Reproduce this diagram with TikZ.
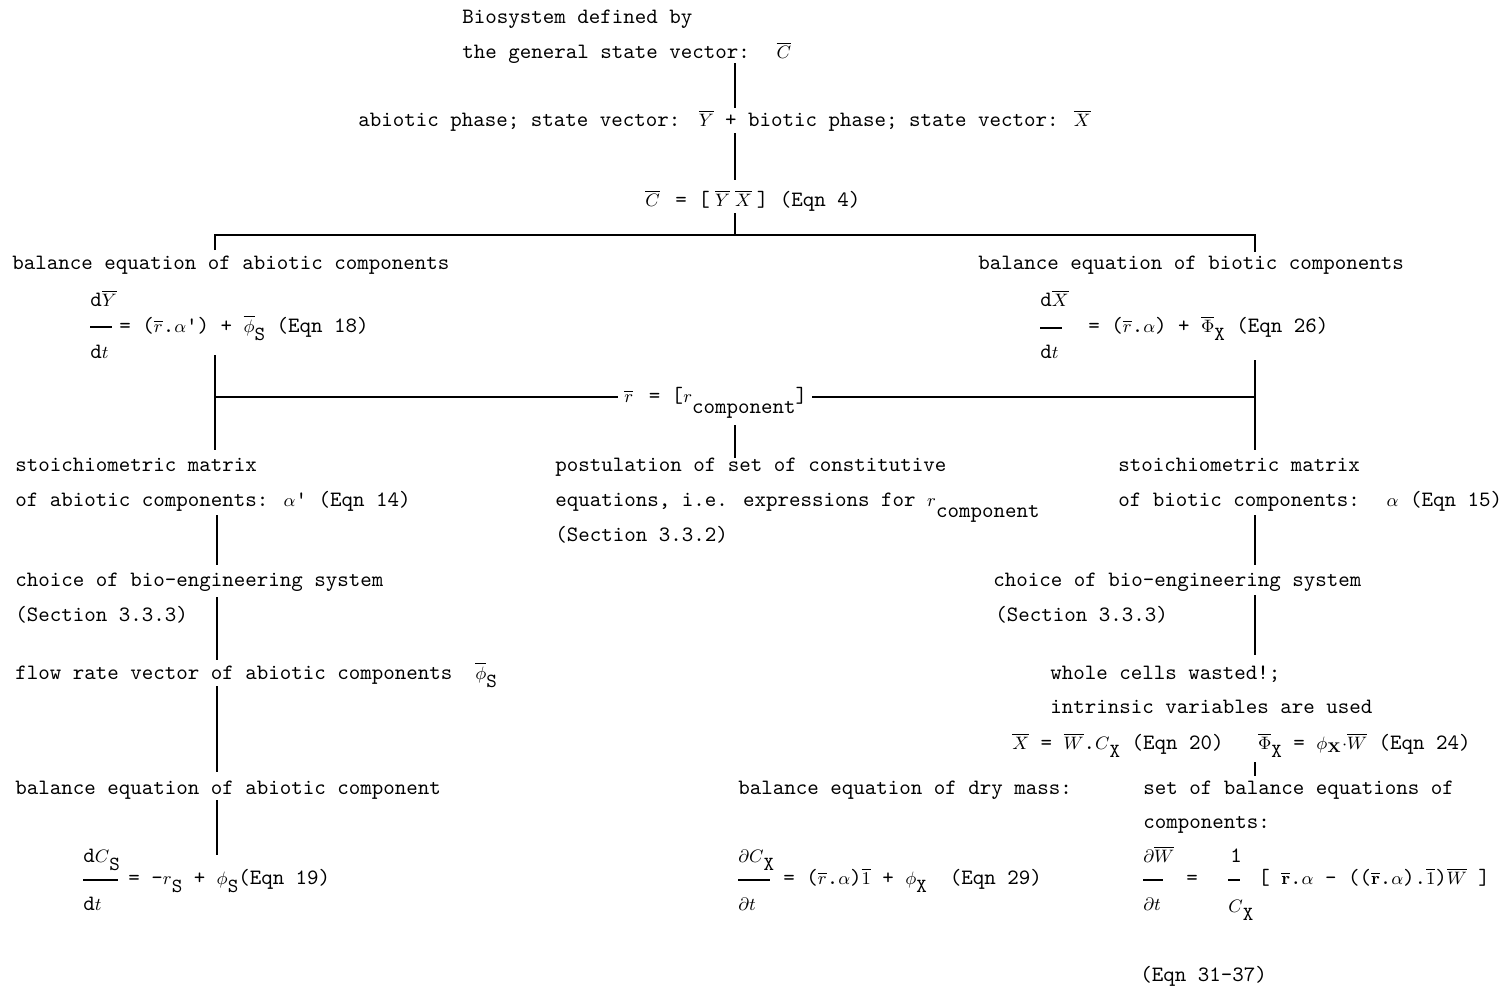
\documentclass[tikz,border=0pt]{standalone}
\usepackage{amsmath}
\DeclareMathSizes{10.95}{9.2}{7}{5}
\newcommand{\sbs}[1]{\raisebox{-4pt}{\fontsize{10}{12}\selectfont #1}}
\newcommand{\cmpsub}{\raisebox{-5.5pt}{component}}
\begin{document}
\begin{tikzpicture}[x=0.5pt,y=-0.5pt,
  txt/.style={anchor=base west, inner sep=0pt, font=\ttfamily\fontsize{10.95}{13}\selectfont},
  conn/.style={line width=0.9pt, black},
  fracline/.style={line width=0.6pt, black}]
\useasboundingbox (0,0) rectangle (1508,985);

% ---------- top ----------
\node[txt] (t1) at (462,24) {Biosystem defined by};
\node[txt] (t2) at (462,58) {the general state vector:~ $\overline{C}$};
\node[txt] (t3) at (358,126) {abiotic phase; state vector: $\,\overline{Y}$ + biotic phase; state vector: $\overline{X}$};
\node[txt] (t4) at (645,206) {$\overline{C}$\hspace{2pt} = [$\;\overline{Y}\;\overline{X}\;$] (Eqn 4)};

\coordinate (a1) at (735,63);  \coordinate (a2) at (735,108);
\coordinate (b1) at (735,133); \coordinate (b2) at (735,180);
\coordinate (c1) at (735,213); \coordinate (c2) at (735,235);
\coordinate (hl) at (215,235); \coordinate (hr) at (1255,235);
\coordinate (hld) at (215,250); \coordinate (hrd) at (1255,252);
\draw[conn] (a1) -- (a2);
\draw[conn] (b1) -- (b2);
\draw[conn] (c1) -- (c2);
\draw[conn] (hld) -- (hl) -- (hr) -- (hrd);

% ---------- balance equations ----------
\node[txt] (bl) at (12,269) {balance equation of abiotic components};
\node[txt] (br) at (978,269) {balance equation of biotic components};

\node[txt] (e18n) at (90,306) {d$\overline{Y}$};
\coordinate (e18a) at (90,327); \coordinate (e18b) at (112,327);
\draw[fracline] (e18a) -- (e18b);
\node[txt] (e18) at (119,332) {= ($\overline{r}$.$\alpha$\textquotesingle) + $\overline{\phi}$\sbs{S} (Eqn 18)};
\node[txt] (e18d) at (90,358) {d$t$};

\node[txt] (e26n) at (1040,306) {d$\overline{X}$};
\coordinate (e26a) at (1040,328); \coordinate (e26b) at (1062,328);
\draw[fracline] (e26a) -- (e26b);
\node[txt] (e26) at (1088,332) {= ($\overline{r}$.$\alpha$) + $\overline{\Phi}$\sbs{X} (Eqn 26)};
\node[txt] (e26d) at (1040,358) {d$t$};

% ---------- r vector ----------
\node[txt] (rv) at (624,402) {$\overline{r}$\hspace{2pt} = [$r$\cmpsub]};
\coordinate (lv1) at (215,355); \coordinate (lv2) at (215,450);
\coordinate (rv1) at (1255,360); \coordinate (rv2) at (1255,450);
\coordinate (hl2) at (215,397); \coordinate (hl2e) at (618,397);
\coordinate (hr2s) at (812,397); \coordinate (hr2) at (1255,397);
\draw[conn] (lv1) -- (lv2);
\draw[conn] (rv1) -- (rv2);
\draw[conn] (hl2) -- (hl2e);
\draw[conn] (hr2s) -- (hr2);
\coordinate (m1) at (735,425); \coordinate (m2) at (735,458);
\draw[conn] (m1) -- (m2);

% ---------- stoichiometric ----------
\node[txt] (sl1) at (15,471) {stoichiometric matrix};
\node[txt] (sl2) at (15,506) {of abiotic components: $\alpha$\textquotesingle{} (Eqn 14)};
\node[txt] (pm1) at (555,471) {postulation of set of constitutive};
\node[txt] (pm2) at (555,506) {equations, i.e. expressions for $r$\cmpsub};
\node[txt] (pm3) at (555,541) {(Section 3.3.2)};
\node[txt] (sr1) at (1118,471) {stoichiometric matrix};
\node[txt] (sr2) at (1118,506) {of biotic components:~ $\alpha$ (Eqn 15)};

% ---------- left column ----------
\node[txt] (cl1) at (15,586) {choice of bio-engineering system};
\node[txt] (cl2) at (15,621) {(Section 3.3.3)};
\node[txt] (fl) at (15,679) {flow rate vector of abiotic components~ $\overline{\phi}$\sbs{S}};
\node[txt] (bal) at (15,794) {balance equation of abiotic component};
\coordinate (l1a) at (217,515); \coordinate (l1b) at (217,565);
\coordinate (l2a) at (217,597); \coordinate (l2b) at (217,660);
\coordinate (l3a) at (217,686); \coordinate (l3b) at (217,772);
\coordinate (l4a) at (217,800); \coordinate (l4b) at (217,855);
\draw[conn] (l1a) -- (l1b);
\draw[conn] (l2a) -- (l2b);
\draw[conn] (l3a) -- (l3b);
\draw[conn] (l4a) -- (l4b);

\node[txt] (e19n) at (83,862) {d$C$\sbs{S}};
\coordinate (e19a) at (83,880); \coordinate (e19b) at (118,880);
\draw[fracline] (e19a) -- (e19b);
\node[txt] (e19) at (128,884) {= -$r$\sbs{S} + $\phi$\sbs{S}(Eqn 19)};
\node[txt] (e19d) at (83,910) {d$t$};

% ---------- right column ----------
\node[txt] (cr1) at (993,586) {choice of bio-engineering system};
\node[txt] (cr2) at (995,621) {(Section 3.3.3)};
\coordinate (r1a) at (1255,515); \coordinate (r1b) at (1255,565);
\coordinate (r2a) at (1255,595); \coordinate (r2b) at (1255,655);
\draw[conn] (r1a) -- (r1b);
\draw[conn] (r2a) -- (r2b);
\node[txt] (w1) at (1050,679) {whole cells wasted!;};
\node[txt] (w2) at (1050,713) {intrinsic variables are used};
\node[txt] (w3) at (1012,749) {$\overline{X}$ = $\overline{W}$.$C$\sbs{X} (Eqn 20)~~ $\overline{\Phi}$\sbs{X} = $\phi_{\mathbf{X}}$$\cdot\overline{W}$ (Eqn 24)};
\coordinate (r3a) at (1255,762); \coordinate (r3b) at (1255,776);
\draw[conn] (r3a) -- (r3b);

\node[txt] (dm) at (738,794) {balance equation of dry mass:};
\node[txt] (sb1) at (1143,794) {set of balance equations of};
\node[txt] (sb2) at (1143,828) {components:};

\node[txt] (e29n) at (738,862) {$\partial C$\sbs{X}};
\coordinate (e29a) at (738,880); \coordinate (e29b) at (770,880);
\draw[fracline] (e29a) -- (e29b);
\node[txt] (e29) at (783,884) {= ($\overline{r}$.$\alpha$)$\overline{1}$ + $\phi$\sbs{X}~ (Eqn 29)};
\node[txt] (e29d) at (738,910) {$\partial t$};

\node[txt] (e31n) at (1143,862) {$\partial\overline{W}$};
\coordinate (e31a) at (1143,880); \coordinate (e31b) at (1163,880);
\draw[fracline] (e31a) -- (e31b);
\node[txt] (e31eq) at (1186,884) {=};
\node[txt] (e31d) at (1143,910) {$\partial t$};
\node[txt] (one) at (1230,862) {1};
\coordinate (o1) at (1228,880); \coordinate (o2) at (1240,880);
\draw[fracline] (o1) -- (o2);
\node[txt] (cx) at (1228,912) {$C$\sbs{X}};
\node[txt] (e31) at (1258,884) {[ $\overline{\mathbf{r}}$.$\alpha$ - (($\overline{\mathbf{r}}$.$\alpha$).$\overline{1}$)$\overline{W}$ ]};
\node[txt] (e3137) at (1140,981) {(Eqn 31-37)};
\end{tikzpicture}
\end{document}
